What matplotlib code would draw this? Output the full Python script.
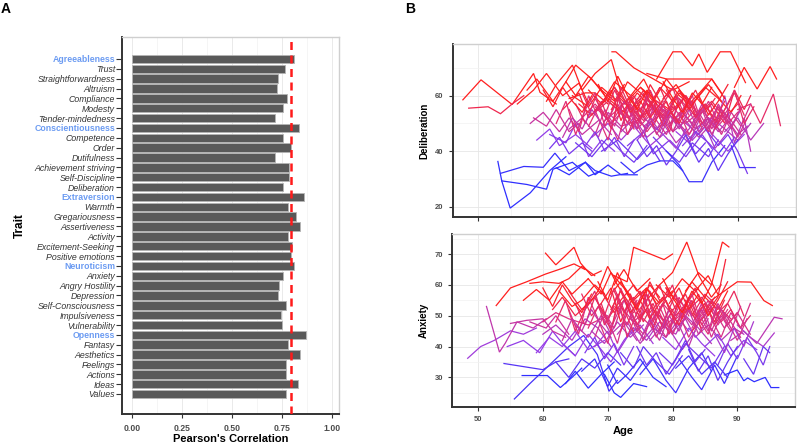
import matplotlib
matplotlib.use("Agg")
import matplotlib.pyplot as plt
import numpy as np
from matplotlib.colors import LinearSegmentedColormap
from matplotlib.ticker import MultipleLocator

plt.rcParams['font.family'] = ['Liberation Sans', 'DejaVu Sans']

# ---------------- Panel A data ----------------
traits = ["Agreeableness", "Trust", "Straightforwardness", "Altruism", "Compliance", "Modesty",
          "Tender-mindedness", "Conscientiousness", "Competence", "Order", "Dutifulness",
          "Achievement striving", "Self-Discipline", "Deliberation", "Extraversion", "Warmth",
          "Gregariousness", "Assertiveness", "Activity", "Excitement-Seeking", "Positive emotions",
          "Neuroticism", "Anxiety", "Angry Hostility", "Depression", "Self-Consciousness",
          "Impulsiveness", "Vulnerability", "Openness", "Fantasy", "Aesthetics", "Feelings",
          "Actions", "Ideas", "Values"]
domains = ["Agreeableness", "Conscientiousness", "Extraversion", "Neuroticism", "Openness"]
correlations = [0.813, 0.765, 0.730, 0.725, 0.775, 0.755, 0.718,
                0.838, 0.758, 0.797, 0.718, 0.785, 0.785, 0.758,
                0.862, 0.782, 0.820, 0.842, 0.782, 0.803, 0.795,
                0.812, 0.758, 0.738, 0.733, 0.770, 0.747, 0.750,
                0.870, 0.780, 0.842, 0.772, 0.772, 0.833, 0.772]
reference_r = 0.795
x_ticks_a = [0.00, 0.25, 0.50, 0.75, 1.00]

# ---------------- Panel B data: Deliberation ----------------
delib_ages = [
    [47.6, 50.4, 55.2, 58.5, 59.5, 62.0],
    [48.5, 51.5, 53.4, 55.2, 57.0],
    [53.0, 53.6, 54.9, 58.0, 61.0, 63.5],
    [53.4, 57.0, 60.0, 61.8, 64.0, 66.5],
    [53.6, 57.5, 60.5, 61.5, 64.5, 67.0, 69.0],
    [56.0, 58.5, 60.5, 63.0, 65.5, 67.0],
    [57.5, 59.0, 61.5, 63.5, 65.0, 67.5, 69.5],
    [58.0, 60.0, 62.5, 64.0, 66.0, 68.5],
    [59.0, 61.0, 62.5, 65.0, 67.5],
    [60.5, 62.0, 64.5, 66.0, 68.0, 70.5, 72.0],
    [61.0, 63.5, 65.0, 67.0, 69.0, 71.0],
    [62.0, 64.0, 66.5, 68.0, 70.5, 73.0],
    [63.0, 65.5, 67.0, 69.5, 71.0, 73.5, 75.0],
    [64.0, 66.0, 68.5, 70.0, 72.0, 74.5],
    [64.5, 67.0, 69.0, 71.5, 73.0, 75.5, 77.0],
    [65.0, 67.5, 70.0, 72.0, 74.0, 76.0],
    [66.0, 68.0, 70.5, 72.5, 74.5, 76.5, 78.5],
    [67.0, 69.0, 71.0, 73.5, 75.5, 77.0],
    [67.5, 70.0, 72.0, 74.0, 76.5, 79.0],
    [68.0, 70.5, 72.5, 74.5, 76.0, 78.5, 80.5],
    [69.0, 71.5, 74.5, 76.5, 78.0],
    [70.6, 71.2, 74.0, 77.0, 80.0, 82.5],
    [71.0, 73.0, 75.0, 77.5, 79.5, 81.0, 83.0],
    [71.5, 73.5, 75.5, 76.5, 79.0, 81.5],
    [72.0, 74.0, 76.0, 78.5, 80.5, 82.5, 84.0],
    [72.5, 75.0, 77.0, 79.0, 81.0, 83.5],
    [73.0, 75.5, 77.0, 79.5, 82.0, 84.5, 86.0],
    [74.0, 76.0, 78.0, 80.5, 82.5, 84.0],
    [75.0, 77.5, 79.5, 81.0, 83.0, 85.5, 87.5],
    [75.5, 78.0, 80.0, 82.0, 84.0, 86.0],
    [76.5, 78.5, 80.5, 83.0, 85.0, 87.0, 89.0],
    [77.0, 79.0, 81.0, 83.0, 85.5, 87.0],
    [77.5, 80.0, 81.3, 83.0, 84.0, 85.3, 87.3, 88.9, 91.2],
    [78.0, 80.0, 82.0, 84.5, 86.5, 88.5],
    [79.0, 81.0, 82.5, 84.5, 86.0, 88.0],
    [80.0, 82.0, 84.0, 86.0, 88.0, 90.0],
    [80.5, 82.5, 84.5, 86.5, 88.5, 91.0],
    [81.0, 83.0, 85.0, 87.0, 89.0, 90.5],
    [82.0, 84.0, 86.0, 88.0, 90.0, 92.0],
    [83.0, 85.0, 86.5, 88.5, 90.5],
    [84.0, 86.0, 88.0, 89.5, 91.0, 92.0],
    [85.0, 87.0, 88.5, 90.0, 91.5],
    [86.0, 88.0, 89.5, 91.0, 92.0],
    [89.0, 90.3, 92.7],
    [89.5, 91.0, 93.0, 95.0, 96.0],
    [90.0, 92.0, 93.5, 95.5, 96.6],
    [88.0, 90.0, 92.0, 94.0],
    [61.0, 62.5, 64.0, 66.0, 67.5],
    [63.5, 65.0, 67.0, 69.0, 71.0, 72.5],
    [58.5, 60.5, 62.0, 64.0, 65.5],
    [72.0, 74.0, 76.0, 78.0, 80.0, 81.5],
    [66.5, 68.0, 70.0, 72.0, 74.5],
    [70.0, 72.5, 74.5, 76.5, 78.0, 80.0],
    [74.5, 76.5, 78.5, 80.5, 82.0],
    [78.5, 80.5, 82.5, 84.5, 86.0, 88.0],
    [64.0, 66.5, 68.0, 70.0],
    [81.5, 83.5, 85.5, 87.5, 89.5],
    [76.0, 79.0, 83.0, 86.0, 87.5],
    [68.0, 70.0, 73.0, 76.0, 78.0],
    [69.5, 71.5, 73.5, 75.5, 77.5, 79.5],
    [73.5, 75.5, 77.5, 79.5, 81.5, 83.5],
    [79.5, 81.5, 83.5, 85.5, 87.5],
    [83.5, 85.5, 87.0, 88.5, 90.0, 91.5],
    [65.5, 67.5, 69.5, 71.5, 73.5],
    [62.0, 63.5, 65.0, 66.5, 68.0, 69.5, 71.0],
    [64.0, 65.5, 67.0, 68.5, 70.0, 71.5, 73.0, 74.5],
    [66.0, 67.5, 69.0, 70.5, 72.0, 73.5, 75.0],
    [68.0, 69.5, 71.0, 72.5, 74.0, 75.5, 77.0, 78.5],
    [69.0, 70.5, 72.0, 73.5, 75.0, 76.5, 78.0],
    [70.0, 71.5, 73.0, 74.5, 76.0, 77.5, 79.0, 80.5],
    [71.0, 72.5, 74.0, 75.5, 77.0, 78.5, 80.0],
    [72.0, 73.5, 75.0, 76.5, 78.0, 79.5, 81.0, 82.5],
    [73.0, 74.5, 76.0, 77.5, 79.0, 80.5, 82.0],
    [74.0, 75.5, 77.0, 78.5, 80.0, 81.5, 83.0, 84.5],
    [75.0, 76.5, 78.0, 79.5, 81.0, 82.5, 84.0],
    [76.0, 77.5, 79.0, 80.5, 82.0, 83.5, 85.0, 86.5],
    [77.0, 78.5, 80.0, 81.5, 83.0, 84.5, 86.0],
    [78.0, 79.5, 81.0, 82.5, 84.0, 85.5, 87.0, 88.5],
    [79.0, 80.5, 82.0, 83.5, 85.0, 86.5, 88.0],
    [80.0, 81.5, 83.0, 84.5, 86.0, 87.5, 89.0, 90.5],
    [81.0, 82.5, 84.0, 85.5, 87.0, 88.5, 90.0],
    [82.0, 83.5, 85.0, 86.5, 88.0, 89.5, 91.0],
    [83.0, 84.5, 86.0, 87.5, 89.0, 90.5],
    [84.0, 85.5, 87.0, 88.5, 90.0, 91.5],
    [65.0, 66.5, 68.0, 69.5, 71.0, 72.5, 74.0],
    [67.0, 68.5, 70.0, 71.5, 73.0, 74.5, 76.0],
    [70.5, 72.0, 73.5, 75.0, 76.5, 78.0, 79.5],
    [73.5, 75.0, 76.5, 78.0, 79.5, 81.0, 82.5],
    [76.5, 78.0, 79.5, 81.0, 82.5, 84.0, 85.5],
    [79.5, 81.0, 82.5, 84.0, 85.5, 87.0, 88.5],
    [63.0, 64.5, 66.0, 67.5, 69.0, 70.5],
    [86.0, 87.5, 89.0, 90.5, 92.0],
    [60.0, 61.5, 63.0, 64.5, 66.0, 67.5],
    [74.5, 76.0, 77.5, 79.0, 80.5, 82.0, 83.5, 85.0],
    [82.5, 84.0, 85.5, 87.0, 88.5, 90.0],
    [66.5, 68.0, 69.5, 71.0, 72.5, 74.0],
    [86.5, 88.0, 89.5, 91.0, 92.5],
    [68.5, 70.0, 71.5, 73.0, 74.5, 76.0, 77.5],
    [78.5, 80.0, 81.5, 83.0, 84.5, 86.0],
]
delib_vals = [
    [58.5, 65.7, 56.8, 68.0, 61.2, 57.0],
    [55.5, 56.0, 53.5, 57.0, 60.0],
    [36.3, 29.3, 19.5, 25.0, 33.0, 38.0],
    [32.0, 34.5, 34.2, 39.3, 33.0, 36.0],
    [29.3, 28.0, 26.3, 33.5, 36.0, 31.0, 33.0],
    [57.0, 62.0, 68.0, 60.0, 64.5, 57.0],
    [62.0, 66.0, 58.0, 65.0, 71.0, 66.0, 60.0],
    [50.0, 54.0, 47.0, 52.0, 46.0, 51.0],
    [44.0, 48.0, 42.0, 46.0, 41.0],
    [58.0, 64.0, 71.0, 62.0, 68.0, 73.0, 61.0],
    [46.0, 43.0, 50.0, 38.0, 44.0, 40.0],
    [34.0, 31.5, 36.0, 33.0, 31.0, 32.0],
    [55.0, 61.0, 52.0, 58.0, 63.0, 55.0, 59.0],
    [48.0, 52.0, 45.0, 54.0, 49.0, 51.0],
    [60.0, 56.0, 63.0, 58.0, 65.0, 60.0, 56.0],
    [43.0, 38.0, 45.0, 40.0, 36.0, 42.0],
    [52.0, 57.0, 50.0, 55.0, 48.0, 53.0, 58.0],
    [62.0, 57.0, 65.0, 60.0, 66.0, 59.0],
    [45.0, 50.0, 44.0, 49.0, 42.0, 47.0],
    [56.0, 50.0, 58.0, 53.0, 47.0, 55.0, 51.0],
    [40.0, 44.0, 37.0, 42.0, 36.5],
    [75.8, 75.8, 70.0, 66.0, 62.0, 65.0],
    [50.0, 46.0, 53.0, 48.0, 55.0, 49.0, 44.0],
    [60.0, 55.0, 62.0, 57.0, 52.0, 58.0],
    [47.0, 52.0, 45.0, 50.0, 43.0, 48.0, 54.0],
    [57.0, 63.0, 58.0, 66.0, 60.0, 55.0],
    [42.0, 47.0, 39.0, 44.0, 38.0, 46.0, 41.0],
    [53.0, 48.0, 56.0, 51.0, 46.0, 52.0],
    [63.0, 58.0, 55.0, 61.0, 57.0, 64.0, 58.0],
    [49.0, 53.0, 47.0, 51.0, 45.0, 50.0],
    [58.0, 52.0, 60.0, 54.0, 49.0, 56.0, 51.0],
    [45.0, 40.0, 36.0, 43.0, 38.0, 44.0],
    [66.0, 75.8, 75.8, 70.7, 75.0, 68.4, 75.8, 75.8, 64.7],
    [52.0, 56.0, 50.0, 55.0, 48.0, 53.0],
    [40.0, 35.0, 29.0, 29.0, 36.0, 42.0],
    [55.0, 60.0, 53.0, 58.0, 52.0, 57.0],
    [47.0, 43.0, 50.0, 45.0, 40.0, 46.0],
    [62.0, 57.0, 63.0, 59.0, 54.0, 60.0],
    [50.0, 46.0, 52.0, 48.0, 44.0, 50.0],
    [44.0, 49.0, 41.0, 47.0, 55.0],
    [53.0, 57.0, 50.0, 62.0, 55.0, 60.0],
    [48.0, 42.0, 46.0, 40.0, 32.0],
    [45.0, 60.0, 43.0, 52.0, 40.0],
    [42.0, 34.1, 34.1],
    [63.0, 70.2, 62.4, 70.5, 66.0],
    [55.0, 57.0, 50.0, 60.6, 49.2],
    [47.0, 52.0, 44.0, 50.0],
    [41.0, 45.0, 39.0, 43.0, 40.0],
    [65.0, 60.0, 67.0, 62.0, 58.0, 64.0],
    [52.0, 49.0, 55.0, 47.0, 50.0],
    [36.0, 32.0, 35.0, 36.5, 36.5, 33.0],
    [36.0, 31.5, 35.0, 31.5, 31.5],
    [59.0, 54.0, 61.0, 56.0, 63.0, 58.0],
    [44.0, 50.0, 46.0, 41.0, 48.0],
    [59.0, 64.0, 57.0, 62.0, 66.0, 59.0],
    [59.0, 61.0, 61.0, 57.0],
    [42.0, 47.0, 43.0, 38.0, 45.0],
    [68.0, 66.0, 66.0, 66.0, 61.0],
    [54.0, 58.0, 52.0, 57.0, 53.0],
    [51.0, 55.0, 49.0, 53.0, 57.0, 52.0],
    [56.0, 51.0, 58.0, 54.0, 50.0, 55.0],
    [50.0, 54.0, 48.0, 52.0, 47.0],
    [48.0, 52.0, 47.0, 51.0, 46.0, 49.0],
    [57.0, 53.0, 59.0, 55.0, 60.0],
    [50.0, 58.0, 46.0, 55.0, 61.0, 49.0, 56.0],
    [55.0, 47.0, 60.0, 52.0, 44.0, 57.0, 50.0, 59.0],
    [61.0, 53.0, 58.0, 48.0, 63.0, 55.0, 50.0],
    [46.0, 55.0, 49.0, 58.0, 52.0, 45.0, 56.0, 50.0],
    [57.0, 62.0, 51.0, 59.0, 54.0, 64.0, 58.0],
    [52.0, 44.0, 56.0, 48.0, 60.0, 51.0, 46.0, 55.0],
    [63.0, 55.0, 60.0, 52.0, 58.0, 49.0, 56.0],
    [48.0, 57.0, 51.0, 62.0, 54.0, 47.0, 59.0, 53.0],
    [58.0, 50.0, 55.0, 46.0, 53.0, 60.0, 52.0],
    [54.0, 61.0, 49.0, 57.0, 63.0, 52.0, 58.0, 48.0],
    [45.0, 52.0, 47.0, 55.0, 50.0, 43.0, 51.0],
    [60.0, 53.0, 58.0, 50.0, 56.0, 62.0, 54.0, 59.0],
    [51.0, 57.0, 47.0, 54.0, 60.0, 50.0, 55.0],
    [56.0, 49.0, 54.0, 46.0, 52.0, 58.0, 50.0, 55.0],
    [62.0, 55.0, 60.0, 53.0, 57.0, 51.0, 58.0],
    [47.0, 54.0, 50.0, 57.0, 48.0, 55.0, 51.0, 46.0],
    [53.0, 59.0, 52.0, 47.0, 56.0, 50.0, 54.0],
    [58.0, 52.0, 57.0, 50.0, 55.0, 61.0, 53.0],
    [49.0, 55.0, 46.0, 53.0, 48.0, 56.0],
    [54.0, 48.0, 57.0, 51.0, 45.0, 52.0],
    [57.0, 50.0, 59.0, 53.0, 62.0, 55.0, 48.0],
    [49.0, 56.0, 51.0, 60.0, 46.0, 54.0, 58.0],
    [55.0, 61.0, 54.0, 58.0, 52.0, 57.0, 62.0],
    [60.0, 52.0, 57.0, 63.0, 55.0, 50.0, 58.0],
    [50.0, 45.0, 53.0, 48.0, 55.0, 47.0, 52.0],
    [57.0, 62.0, 55.0, 60.0, 53.0, 58.0, 64.0],
    [45.0, 52.0, 48.0, 55.0, 50.0, 46.0],
    [52.0, 46.0, 54.0, 49.0, 57.0],
    [62.0, 56.0, 63.0, 58.0, 54.0, 60.0],
    [44.0, 38.0, 42.0, 35.0, 40.0, 46.0, 39.0, 43.0],
    [43.0, 36.0, 41.0, 33.0, 39.0, 44.0],
    [42.0, 47.0, 40.0, 45.0, 38.0, 44.0],
    [48.0, 55.0, 62.0, 50.0, 56.0],
    [64.0, 58.0, 67.0, 60.0, 55.0, 62.0, 57.0],
    [65.0, 59.0, 54.0, 61.0, 57.0, 63.0],
]

# ---------------- Panel B data: Anxiety ----------------
anx_ages = [
    [48.4, 50.4, 52.5, 55.0, 57.0, 59.0],
    [51.3, 53.3, 54.2, 56.0, 58.5, 60.5],
    [52.8, 55.0, 57.5, 60.4, 62.5, 64.8, 66.5],
    [60.4, 62.0, 63.0, 64.8, 65.8, 67.5, 69.0],
    [55.6, 58.0, 61.0, 64.0, 66.3, 68.4, 70.2, 71.5],
    [56.8, 58.5, 60.7, 62.7, 64.5, 66.0],
    [54.0, 57.0, 60.0, 62.0, 64.0],
    [54.5, 57.0, 59.5, 61.5, 63.0, 65.0],
    [55.0, 57.5, 60.0, 61.5, 63.5],
    [57.0, 59.0, 61.0, 63.0, 64.5, 67.0],
    [58.0, 60.0, 62.5, 64.0, 66.0, 68.0],
    [59.0, 61.0, 63.0, 65.0, 67.0, 69.5],
    [60.0, 62.0, 64.5, 66.5, 68.5, 70.5],
    [61.5, 63.0, 65.0, 67.0, 69.0, 71.0, 72.5],
    [62.0, 64.0, 66.0, 68.0, 70.0, 72.0],
    [63.0, 65.0, 67.0, 69.0, 70.5, 72.5, 74.0],
    [64.0, 66.0, 68.0, 70.0, 72.0, 74.0, 76.0],
    [65.0, 67.0, 69.0, 70.5, 72.5, 74.5],
    [66.0, 68.0, 70.0, 71.5, 73.5, 75.5],
    [67.0, 69.0, 70.5, 72.5, 74.5, 76.5, 78.0],
    [68.0, 70.0, 71.5, 73.0, 75.0, 77.0],
    [69.0, 70.5, 72.0, 74.0, 76.0, 78.0, 80.0],
    [70.0, 71.5, 73.0, 75.0, 77.0, 79.0],
    [70.5, 72.0, 74.0, 76.0, 78.0, 80.0],
    [71.0, 73.0, 74.0, 78.7, 80.0],
    [71.5, 73.0, 75.0, 77.0, 79.0, 81.0, 82.5],
    [72.0, 74.0, 75.5, 77.5, 79.5, 81.5],
    [73.0, 75.0, 76.5, 78.5, 80.5, 82.5, 84.0],
    [74.0, 76.0, 78.0, 80.0, 81.5, 83.5],
    [75.0, 77.0, 79.0, 80.5, 82.5, 84.5, 86.0],
    [76.0, 78.0, 80.0, 82.2, 84.1, 86.0, 87.5],
    [76.5, 78.5, 80.5, 82.0, 84.0, 86.0],
    [77.0, 79.0, 81.0, 83.0, 85.0, 87.0, 89.0],
    [78.0, 80.0, 82.0, 84.0, 86.0, 88.0],
    [79.0, 81.0, 83.0, 85.0, 87.0, 88.5],
    [80.0, 82.0, 83.5, 85.5, 87.5, 89.5, 91.0],
    [81.0, 83.0, 84.5, 86.5, 88.0, 90.0],
    [82.0, 84.0, 86.0, 87.7, 88.7],
    [83.0, 85.0, 87.0, 88.2],
    [84.0, 86.0, 88.0, 90.0, 92.0],
    [85.0, 87.0, 89.0, 91.0, 93.0],
    [86.0, 88.0, 90.0, 92.1, 94.1, 95.4],
    [87.0, 88.5, 90.0, 91.5, 93.0, 94.0, 95.0],
    [88.0, 90.0, 91.0, 91.6, 92.6, 94.3, 95.2, 96.4],
    [89.0, 91.0, 93.0, 95.7, 96.9],
    [90.0, 92.0, 94.0, 95.7],
    [91.0, 92.5, 94.0, 95.0],
    [62.5, 64.5, 66.0, 68.0, 69.5],
    [58.0, 60.5, 62.0, 64.0],
    [66.5, 68.5, 70.0, 71.5, 73.0],
    [73.5, 75.5, 77.5, 79.5, 81.0],
    [69.5, 71.0, 72.0, 74.0, 76.0],
    [77.5, 79.5, 81.5, 83.5, 85.5, 87.0],
    [80.5, 82.5, 84.5, 86.5, 88.5],
    [84.5, 86.0, 87.5, 89.0, 90.5, 92.0],
    [60.0, 62.0, 64.0, 67.0, 70.0],
    [71.0, 72.5, 74.5, 76.5],
    [63.5, 65.0, 67.0, 69.0, 71.0],
    [74.5, 76.5, 78.5, 80.5, 82.5, 84.5],
    [78.5, 80.5, 82.5, 84.5, 86.5],
    [82.5, 84.5, 86.5, 88.5, 90.0],
    [67.5, 69.5, 71.5, 73.5, 75.5],
    [62.0, 63.5, 65.0, 66.5, 68.0, 69.5, 71.0],
    [64.0, 65.5, 67.0, 68.5, 70.0, 71.5, 73.0, 74.5],
    [66.0, 67.5, 69.0, 70.5, 72.0, 73.5, 75.0],
    [68.0, 69.5, 71.0, 72.5, 74.0, 75.5, 77.0, 78.5],
    [69.0, 70.5, 72.0, 73.5, 75.0, 76.5, 78.0],
    [70.0, 71.5, 73.0, 74.5, 76.0, 77.5, 79.0, 80.5],
    [71.0, 72.5, 74.0, 75.5, 77.0, 78.5, 80.0],
    [72.0, 73.5, 75.0, 76.5, 78.0, 79.5, 81.0, 82.5],
    [73.0, 74.5, 76.0, 77.5, 79.0, 80.5, 82.0],
    [74.0, 75.5, 77.0, 78.5, 80.0, 81.5, 83.0, 84.5],
    [75.0, 76.5, 78.0, 79.5, 81.0, 82.5, 84.0],
    [76.0, 77.5, 79.0, 80.5, 82.0, 83.5, 85.0, 86.5],
    [77.0, 78.5, 80.0, 81.5, 83.0, 84.5, 86.0],
    [78.0, 79.5, 81.0, 82.5, 84.0, 85.5, 87.0, 88.5],
    [79.0, 80.5, 82.0, 83.5, 85.0, 86.5, 88.0],
    [80.0, 81.5, 83.0, 84.5, 86.0, 87.5, 89.0, 90.5],
    [81.0, 82.5, 84.0, 85.5, 87.0, 88.5, 90.0],
    [82.0, 83.5, 85.0, 86.5, 88.0, 89.5, 91.0],
    [83.0, 84.5, 86.0, 87.5, 89.0, 90.5],
    [84.0, 85.5, 87.0, 88.5, 90.0, 91.5],
    [65.0, 66.5, 68.0, 69.5, 71.0, 72.5, 74.0],
    [67.0, 68.5, 70.0, 71.5, 73.0, 74.5, 76.0],
    [70.5, 72.0, 73.5, 75.0, 76.5, 78.0, 79.5],
    [73.5, 75.0, 76.5, 78.0, 79.5, 81.0, 82.5],
    [76.5, 78.0, 79.5, 81.0, 82.5, 84.0, 85.5],
    [79.5, 81.0, 82.5, 84.0, 85.5, 87.0, 88.5],
    [63.0, 64.5, 66.0, 67.5, 69.0, 70.5],
    [86.0, 87.5, 89.0, 90.5, 92.0],
    [60.0, 61.5, 63.0, 64.5, 66.0, 67.5],
    [74.5, 76.0, 77.5, 79.0, 80.5, 82.0, 83.5, 85.0],
    [82.5, 84.0, 85.5, 87.0, 88.5, 90.0],
    [66.5, 68.0, 69.5, 71.0, 72.5, 74.0],
    [86.5, 88.0, 89.5, 91.0, 92.5],
    [68.5, 70.0, 71.5, 73.0, 74.5, 76.0, 77.5],
    [78.5, 80.0, 81.5, 83.0, 84.5, 86.0],
]
anx_vals = [
    [36.2, 40.0, 42.0, 45.1, 44.0, 46.0],
    [53.0, 38.2, 41.1, 48.0, 46.0, 49.0],
    [53.3, 59.0, 61.0, 63.5, 65.0, 66.8, 65.0],
    [70.3, 66.5, 68.5, 72.2, 67.1, 63.0, 64.5],
    [23.0, 28.0, 34.0, 40.0, 43.6, 37.4, 25.5, 29.0],
    [30.6, 30.6, 30.6, 26.7, 30.0, 33.0],
    [34.5, 33.5, 32.5, 35.0, 36.0],
    [40.0, 42.0, 38.0, 45.0, 41.0, 37.0],
    [47.5, 48.5, 49.0, 45.0, 43.0],
    [55.0, 58.5, 55.0, 61.0, 57.0, 62.0],
    [60.5, 61.0, 60.5, 62.0, 66.0, 63.0],
    [38.0, 43.0, 40.0, 45.0, 39.0, 42.0],
    [44.0, 47.0, 42.0, 49.0, 46.0, 40.0],
    [52.0, 56.0, 50.0, 54.0, 58.0, 51.0, 55.0],
    [35.0, 30.0, 36.0, 33.0, 38.0, 34.0],
    [41.0, 37.0, 44.0, 39.0, 35.0, 42.0, 46.0],
    [58.0, 52.0, 56.0, 49.0, 55.0, 60.0, 54.0],
    [47.0, 43.0, 50.0, 44.0, 48.0, 42.0],
    [32.0, 36.0, 27.0, 33.0, 29.0, 35.0],
    [62.0, 57.0, 64.0, 59.0, 53.0, 60.0, 56.0],
    [40.0, 45.0, 38.0, 43.0, 47.0, 41.0],
    [50.0, 46.0, 53.0, 48.0, 52.0, 45.0, 49.0],
    [34.0, 28.0, 31.0, 36.0, 30.0, 27.0],
    [57.0, 61.0, 55.0, 59.0, 54.0, 58.0],
    [63.0, 61.0, 72.2, 68.2, 70.0],
    [44.0, 48.0, 41.0, 46.0, 43.0, 49.0, 45.0],
    [38.0, 33.0, 40.0, 35.0, 31.0, 37.0],
    [53.0, 58.0, 51.0, 56.0, 50.0, 55.0, 59.0],
    [46.0, 42.0, 48.0, 44.0, 39.0, 45.0],
    [31.0, 36.0, 29.0, 25.0, 33.0, 38.0, 32.0],
    [55.0, 60.0, 64.0, 73.9, 62.8, 56.0, 60.0],
    [42.0, 47.0, 44.0, 50.0, 46.0, 41.0],
    [52.0, 48.0, 55.0, 50.0, 57.0, 53.0, 49.0],
    [38.0, 34.0, 41.0, 37.0, 33.0, 40.0],
    [59.0, 54.0, 61.0, 56.0, 52.0, 58.0],
    [45.0, 49.0, 43.0, 47.0, 42.0, 46.0, 44.0],
    [36.0, 30.0, 26.0, 34.0, 28.0, 37.0],
    [58.0, 64.0, 60.0, 73.9, 72.3],
    [45.0, 50.0, 56.0, 68.2],
    [48.0, 53.0, 46.0, 51.0, 44.0],
    [40.0, 44.0, 37.0, 42.0, 39.0],
    [55.0, 58.0, 61.0, 60.9, 54.9, 53.3],
    [34.0, 41.0, 36.0, 43.0, 38.0, 34.0, 40.0],
    [30.8, 32.4, 28.9, 29.8, 28.6, 30.0, 26.7, 26.7],
    [42.0, 45.0, 41.0, 49.5, 49.0],
    [47.0, 43.0, 40.0, 44.4],
    [36.0, 31.0, 40.0, 38.0],
    [58.0, 53.0, 55.0, 60.0, 57.0],
    [48.0, 46.0, 50.0, 44.0],
    [52.0, 58.0, 66.0, 60.0, 55.0],
    [49.0, 44.0, 51.0, 46.0, 53.0],
    [31.0, 25.0, 23.5, 28.0, 27.0],
    [60.0, 56.0, 62.0, 58.0, 63.0, 57.0],
    [33.0, 37.0, 31.0, 35.0, 30.0],
    [50.0, 55.0, 48.0, 52.0, 46.0, 50.0],
    [48.0, 51.0, 49.0, 47.0, 50.0],
    [60.0, 65.0, 58.0, 62.0],
    [28.0, 32.0, 26.5, 31.0, 35.0],
    [51.0, 47.0, 54.0, 49.0, 52.0, 46.0],
    [43.0, 39.0, 46.0, 41.0, 37.0],
    [52.0, 56.0, 50.0, 54.0, 48.0],
    [45.0, 41.0, 48.0, 43.0, 47.0],
    [48.0, 55.0, 45.0, 52.0, 58.0, 47.0, 53.0],
    [52.0, 44.0, 56.0, 49.0, 41.0, 53.0, 47.0, 55.0],
    [57.0, 50.0, 54.0, 45.0, 59.0, 51.0, 46.0],
    [43.0, 51.0, 46.0, 55.0, 49.0, 42.0, 52.0, 47.0],
    [54.0, 59.0, 48.0, 56.0, 51.0, 61.0, 55.0],
    [49.0, 41.0, 53.0, 45.0, 57.0, 48.0, 43.0, 52.0],
    [58.0, 51.0, 56.0, 48.0, 54.0, 46.0, 52.0],
    [45.0, 54.0, 48.0, 58.0, 51.0, 44.0, 56.0, 50.0],
    [55.0, 47.0, 52.0, 43.0, 50.0, 57.0, 49.0],
    [51.0, 58.0, 46.0, 54.0, 60.0, 49.0, 55.0, 45.0],
    [42.0, 49.0, 44.0, 52.0, 47.0, 40.0, 48.0],
    [57.0, 50.0, 55.0, 47.0, 53.0, 59.0, 51.0, 56.0],
    [48.0, 54.0, 44.0, 51.0, 57.0, 47.0, 52.0],
    [53.0, 46.0, 51.0, 43.0, 49.0, 55.0, 47.0, 52.0],
    [59.0, 52.0, 57.0, 50.0, 54.0, 48.0, 55.0],
    [44.0, 51.0, 47.0, 54.0, 45.0, 52.0, 48.0, 43.0],
    [50.0, 56.0, 49.0, 44.0, 53.0, 47.0, 51.0],
    [55.0, 49.0, 54.0, 47.0, 52.0, 58.0, 50.0],
    [46.0, 52.0, 43.0, 50.0, 45.0, 53.0],
    [51.0, 45.0, 54.0, 48.0, 42.0, 49.0],
    [54.0, 47.0, 56.0, 50.0, 59.0, 52.0, 45.0],
    [46.0, 53.0, 48.0, 57.0, 43.0, 51.0, 55.0],
    [52.0, 58.0, 51.0, 55.0, 49.0, 54.0, 59.0],
    [57.0, 49.0, 54.0, 60.0, 52.0, 47.0, 55.0],
    [47.0, 42.0, 50.0, 45.0, 52.0, 44.0, 49.0],
    [54.0, 59.0, 52.0, 57.0, 50.0, 55.0, 61.0],
    [42.0, 49.0, 45.0, 52.0, 47.0, 43.0],
    [49.0, 43.0, 51.0, 46.0, 54.0],
    [59.0, 53.0, 60.0, 55.0, 51.0, 57.0],
    [40.0, 34.0, 38.0, 31.0, 36.0, 42.0, 35.0, 39.0],
    [39.0, 32.0, 37.0, 29.0, 35.0, 40.0],
    [38.0, 43.0, 36.0, 41.0, 34.0, 40.0],
    [44.0, 38.0, 46.0, 40.0, 48.0],
    [61.0, 55.0, 64.0, 57.0, 52.0, 59.0, 54.0],
    [62.0, 56.0, 51.0, 58.0, 54.0, 60.0],
]

# ---------------- Figure ----------------
W, H = 797, 444
fig = plt.figure(figsize=(W / 100, H / 100), dpi=100)

grid_major = '#e6e6e6'
grid_minor = '#f2f2f2'
frame_col = '#cfcfcf'
axis_col = '#333333'
tick_text = '#4d4d4d'


def style_axes(ax):
    for s in ['top', 'right']:
        ax.spines[s].set_color(frame_col)
        ax.spines[s].set_linewidth(1.0)
    for s in ['left', 'bottom']:
        ax.spines[s].set_color(axis_col)
        ax.spines[s].set_linewidth(1.4)
    ax.tick_params(axis='both', which='major', length=3, width=0.8, color='#333333',
                   labelcolor=tick_text)
    ax.tick_params(axis='both', which='minor', length=0)
    ax.set_axisbelow(True)


# ---- Panel A ----
axA = fig.add_axes([122 / W, 1 - 414 / H, 217.3 / W, 377.3 / H])
ypos = np.arange(len(traits))
axA.barh(ypos, correlations, height=0.86, color='#595959', edgecolor='#b5b5b5',
         linewidth=0.6, zorder=2)
axA.axvline(reference_r, color='#ff1a1a', linestyle=(0, (3.2, 2.2)), linewidth=1.8, zorder=3)
axA.set_xlim(-0.049, 1.038)
axA.set_ylim(36.03, -2.26)
style_axes(axA)
axA.tick_params(axis='y', length=4, pad=1)
axA.tick_params(axis='x', pad=4)
axA.set_xticks(x_ticks_a)
axA.set_xticklabels([f"{v:.2f}" for v in x_ticks_a], fontsize=6.2, fontweight='bold')
axA.xaxis.set_minor_locator(MultipleLocator(0.125))
axA.set_yticks(ypos)
axA.set_yticklabels(traits, fontsize=6.3)
for lab, name in zip(axA.get_yticklabels(), traits):
    if name in domains:
        lab.set_color('#6b9bf2')
        lab.set_fontweight('bold')
        lab.set_fontstyle('normal')
    else:
        lab.set_color('#333333')
        lab.set_fontstyle('italic')
axA.grid(True, which='major', axis='x', color=grid_major, linewidth=0.6)
axA.grid(True, which='minor', axis='x', color=grid_minor, linewidth=0.5)
axA.set_xlabel("Pearson's Correlation", fontsize=8, fontweight='bold', labelpad=1)
axA.set_ylabel("Trait", fontsize=8.5, fontweight='bold', labelpad=6)

# ---- Panel B ----
cmap = LinearSegmentedColormap.from_list(
    'br', [(0.0, '#2f2fff'), (0.42, '#9a3ee6'), (0.72, '#de307e'), (1.0, '#ff1f1f')])


def spaghetti(ax, ages, vals, lo, hi):
    for a, v in zip(ages, vals):
        t = np.clip((np.mean(v) - lo) / (hi - lo), 0, 1)
        ax.plot(a, v, color=cmap(t), linewidth=0.9, solid_joinstyle='miter')


axB1 = fig.add_axes([452.5 / W, 1 - 216.7 / H, 343.2 / W, 172.4 / H])
spaghetti(axB1, delib_ages, delib_vals, 34, 60)
axB1.set_xlim(46.0, 98.95)
axB1.set_ylim(16.4, 78.5)
axB1.set_xticks([50, 60, 70, 80, 90])
axB1.set_xticklabels([])
axB1.set_yticks([20, 40, 60])
axB1.xaxis.set_minor_locator(MultipleLocator(5))
axB1.yaxis.set_minor_locator(MultipleLocator(10))
axB1.grid(True, which='major', color=grid_major, linewidth=0.6)
axB1.grid(True, which='minor', color=grid_minor, linewidth=0.5)
style_axes(axB1)
axB1.tick_params(axis='both', labelsize=5.5)
for lab in axB1.get_yticklabels():
    lab.set_fontweight('bold')
axB1.set_ylabel("Deliberation", fontsize=7, fontweight='bold', labelpad=4)

axB2 = fig.add_axes([452.0 / W, 1 - 407.3 / H, 343.0 / W, 173.3 / H])
spaghetti(axB2, anx_ages, anx_vals, 30, 57)
axB2.set_xlim(45.98, 98.9)
axB2.set_ylim(20.3, 76.5)
axB2.set_xticks([50, 60, 70, 80, 90])
axB2.set_yticks([30, 40, 50, 60, 70])
axB2.xaxis.set_minor_locator(MultipleLocator(5))
axB2.yaxis.set_minor_locator(MultipleLocator(5))
axB2.grid(True, which='major', color=grid_major, linewidth=0.6)
axB2.grid(True, which='minor', color=grid_minor, linewidth=0.5)
style_axes(axB2)
axB2.tick_params(axis='both', labelsize=5.5)
for lab in axB2.get_yticklabels() + axB2.get_xticklabels():
    lab.set_fontweight('bold')
axB2.set_ylabel("Anxiety", fontsize=7, fontweight='bold', labelpad=4)
axB2.set_xlabel("Age", fontsize=8, fontweight='bold', labelpad=2)

fig.text(1 / W, 1 - 2 / H, "A", fontsize=10, fontweight='bold', va='top', ha='left')
fig.text(405 / W, 1 - 2 / H, "B", fontsize=10, fontweight='bold', va='top', ha='left')

fig.savefig("out.png", dpi=100)
